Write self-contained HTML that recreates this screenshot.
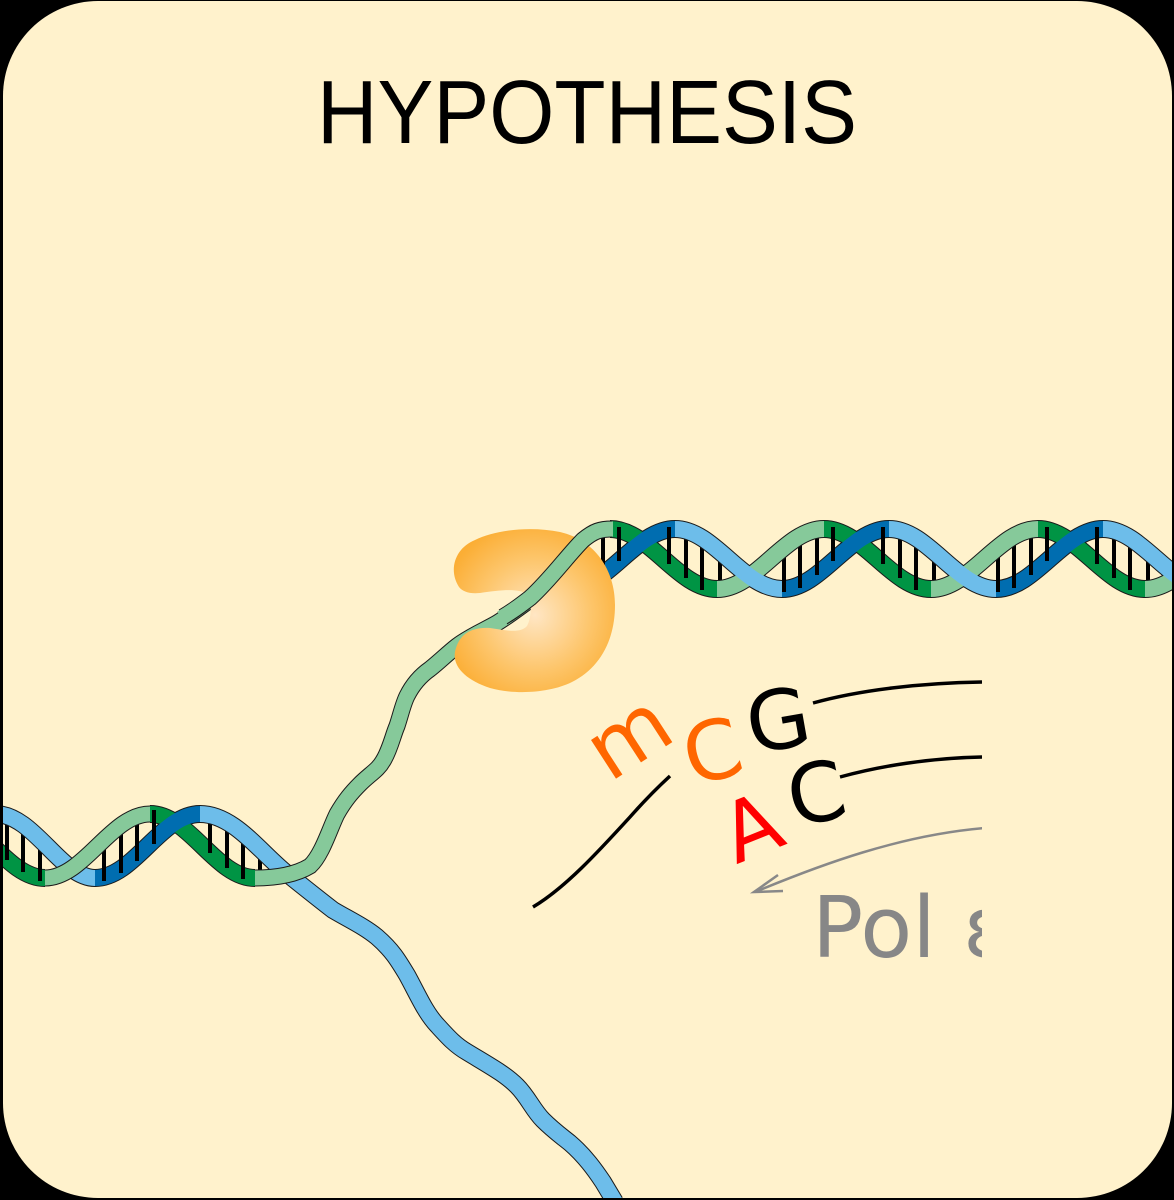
<!DOCTYPE html>
<html><head><meta charset="utf-8"><style>
html,body{margin:0;padding:0;background:#000;}
svg{display:block;}
</style></head><body>
<svg width="1174" height="1200" viewBox="0 0 1174 1200" xmlns="http://www.w3.org/2000/svg">
<defs>
<clipPath id="card"><rect x="3" y="1" width="1169" height="1197" rx="95" ry="95"/></clipPath>
<clipPath id="txt"><rect x="0" y="0" width="982" height="1200"/></clipPath>
<radialGradient id="pg" cx="535" cy="615" r="95" gradientUnits="userSpaceOnUse">
<stop offset="0" stop-color="#FFE6C4"/><stop offset="0.6" stop-color="#FDC56A"/><stop offset="1" stop-color="#FBAE35"/>
</radialGradient>
</defs>
<rect width="1174" height="1200" fill="#000"/>
<rect x="3" y="1" width="1169" height="1197" rx="95" ry="95" fill="#FFF2CC"/>
<text x="587" y="143" font-family="Liberation Sans, sans-serif" font-size="90" text-anchor="middle" textLength="540" lengthAdjust="spacingAndGlyphs" fill="#000">HYPOTHESIS</text>

<g clip-path="url(#card)" fill="none" stroke-linecap="butt">
<!-- TOP HELIX back strands -->
<g stroke="#1a1a1a" stroke-width="18">
<path d="M610 529 C649 529 678 589 717 589 M824 529 C863 529 892 589 931 589 M1038 529 C1077 529 1106 589 1145 589"/>
<path d="M568 589 C607 589 636 529 675 529 M782 589 C821 589 850 529 889 529 M996 589 C1035 589 1064 529 1103 529 M1210 589 C1249 589 1278 529 1317 529"/>
</g>
<g stroke="#009444" stroke-width="16">
<path d="M610 529 C649 529 678 589 717 589 M824 529 C863 529 892 589 931 589 M1038 529 C1077 529 1106 589 1145 589"/>
</g>
<g stroke="#006DB0" stroke-width="16">
<path d="M568 589 C607 589 636 529 675 529 M782 589 C821 589 850 529 889 529 M996 589 C1035 589 1064 529 1103 529 M1210 589 C1249 589 1278 529 1317 529"/>
</g>
<g stroke="#000" stroke-width="4">
<path d="M570 547V590 M586 535V586 M603 527V575 M619 527V561
M669 527V564 M686 528V578 M702 537V590 M720 551V592
M784 547V592 M800 535V588 M817 527V575 M833 527V561
M883 527V564 M900 528V578 M916 537V590 M934 551V592
M998 547V592 M1014 535V588 M1031 527V575 M1047 527V561
M1097 527V564 M1114 528V578 M1130 537V590 M1148 551V592"/>
</g>
<g stroke="#1a1a1a" stroke-width="18">
<path d="M717 589 C756 589 785 529 824 529 M931 589 C970 589 999 529 1038 529 M1145 589 C1184 589 1213 529 1252 529"/>
<path d="M675 529 C714 529 743 589 782 589 M889 529 C928 529 957 589 996 589 M1103 529 C1142 529 1171 589 1210 589"/>
</g>
<g stroke="#86C99A" stroke-width="16">
<path d="M717 589 C756 589 785 529 824 529 M931 589 C970 589 999 529 1038 529 M1145 589 C1184 589 1213 529 1252 529"/>
</g>
<g stroke="#6DBDEA" stroke-width="16">
<path d="M675 529 C714 529 743 589 782 589 M889 529 C928 529 957 589 996 589 M1103 529 C1142 529 1171 589 1210 589"/>
</g>

<!-- BOTTOM HELIX back -->
<g stroke="#1a1a1a" stroke-width="18">
<path d="M-60 814 C-21 814 6 878 45 878 M150 814 C189 814 216 878 255 878"/>
<path d="M95 878 C134 878 161 814 200 814"/>
</g>
<path d="M-60 814 C-21 814 6 878 45 878 M150 814 C189 814 216 878 255 878" stroke="#009444" stroke-width="16"/>
<path d="M95 878 C134 878 161 814 200 814" stroke="#006DB0" stroke-width="16"/>
<g stroke="#000" stroke-width="4">
<path d="M7 812V860 M23 822V872 M40 839V881 M104 840V881 M121 825V873 M137 812V861 M154 810V844 M210 810V853 M227 818V868 M243 832V879 M260 848V881"/>
</g>
<path d="M-110 878 C-71 878 -44 814 -5 814 C34 814 61 878 95 878 M200 814 C235 814 262 855 290 876 C305 888 320 900 333 910 C350 920 365 927 377 937 C392 950 398 960 407 975 C418 995 425 1012 437 1025 C448 1037 455 1045 467 1052 C490 1066 505 1074 517 1086 C528 1097 533 1110 543 1120 C553 1130 560 1135 570 1143 C585 1156 595 1170 603 1182 L615 1202" stroke="#1a1a1a" stroke-width="18"/>
<path d="M-110 878 C-71 878 -44 814 -5 814 C34 814 61 878 95 878 M200 814 C235 814 262 855 290 876 C305 888 320 900 333 910 C350 920 365 927 377 937 C392 950 398 960 407 975 C418 995 425 1012 437 1025 C448 1037 455 1045 467 1052 C490 1066 505 1074 517 1086 C528 1097 533 1110 543 1120 C553 1130 560 1135 570 1143 C585 1156 595 1170 603 1182 L615 1202" stroke="#6DBDEA" stroke-width="16"/>
<path d="M45 878 C84 878 111 814 150 814 M255 878 C275 878 295 875 310 866 C322 855 330 828 337 814 C345 800 352 792 360 784 C370 774 378 770 383 761 C390 750 393 735 397 726 C401 714 403 704 407 696 C413 684 420 676 430 669 C440 661 448 653 457 646 C470 636 485 630 497 623 C510 615 520 607 530 600" stroke="#1a1a1a" stroke-width="17"/>
<path d="M45 878 C84 878 111 814 150 814 M255 878 C275 878 295 875 310 866 C322 855 330 828 337 814 C345 800 352 792 360 784 C370 774 378 770 383 761 C390 750 393 735 397 726 C401 714 403 704 407 696 C413 684 420 676 430 669 C440 661 448 653 457 646 C470 636 485 630 497 623 C510 615 520 607 530 600" stroke="#86C99A" stroke-width="15"/>
</g>

<!-- protein -->
<path d="M459 587 C448 570 455 548 475 540 C495 530 530 526 560 532 C595 540 615 570 615 605 C615 640 600 668 572 682 C550 693 515 695 490 688 C465 680 450 665 456 648 C460 635 470 627 490 628 C505 630 520 634 527 626 C532 617 532 600 527 594 C518 588 500 590 480 593 C470 594 463 592 459 587 Z" fill="url(#pg)"/>
<!-- green strand over protein -->
<path d="M503 617 C515 610 522 604 530 598 C550 580 568 555 583 540 C594 531 600 529 612 529" fill="none" stroke="#1a1a1a" stroke-width="17"/>
<path d="M501 618 C515 610 522 604 530 598 C550 580 568 555 583 540 C594 531 600 529 613 529" fill="none" stroke="#86C99A" stroke-width="15"/>

<!-- letters and lines -->
<g clip-path="url(#txt)">
<g font-family="DejaVu Sans, Liberation Sans, sans-serif" text-anchor="middle">
<text transform="translate(632 742) rotate(-33)" y="22" font-size="84" fill="#FF6600">m</text>
<text transform="translate(712 750) rotate(-15)" y="30" font-size="82" fill="#FF6600">C</text>
<text transform="translate(778 719) rotate(-10)" y="30" font-size="82" fill="#000">G</text>
<text transform="translate(751 826) rotate(-22)" y="30" font-size="82" fill="#FF0000">A</text>
<text transform="translate(816 792) rotate(-12)" y="30" font-size="82" fill="#000">C</text>
<text x="812" y="957" text-anchor="start" font-size="85" fill="#878787">Pol ε</text>
</g>
<g fill="none" stroke="#000" stroke-width="3.5">
<path d="M813 703 C860 690 920 683 982 682"/>
<path d="M840 777 C880 766 930 758 982 757"/>
<path d="M533 907 C565 888 598 852 630 817 C645 800 658 787 670 776"/>
</g>
<g fill="none" stroke="#888" stroke-width="2.5">
<path d="M985 828 C900 835 820 865 755 892"/>
<path d="M778 875 L754 892 L783 891"/>
</g>
</g>
</svg>
</body></html>
